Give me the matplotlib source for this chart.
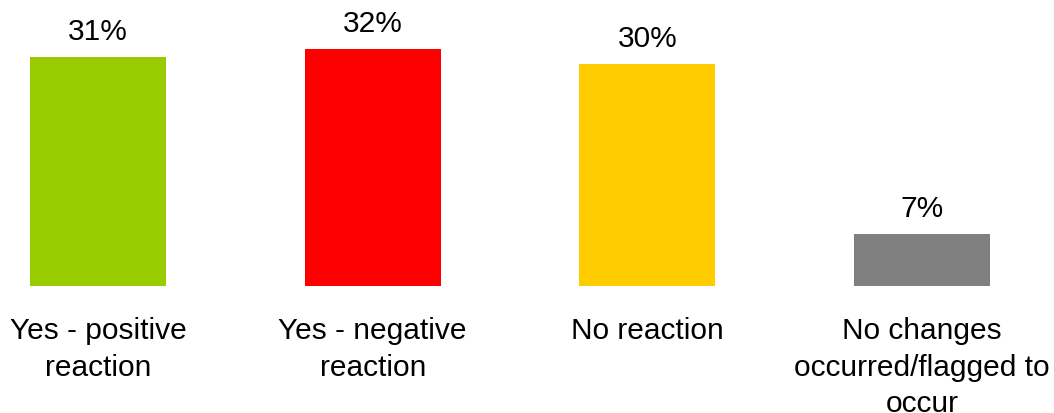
import matplotlib
matplotlib.use('Agg')
import matplotlib.pyplot as plt

categories = ['Yes - positive\nreaction', 'Yes - negative\nreaction', 'No reaction',
              'No changes\noccurred/flagged to\noccur']
values = [31, 32, 30, 7]
colors = ['#99CC00', '#FF0000', '#FFCC00', '#808080']

plt.rcParams['font.family'] = ['Liberation Sans', 'DejaVu Sans']

fig = plt.figure(figsize=(10.54, 4.14), dpi=100)
ax = fig.add_axes([0, 127 / 414, 1, 287 / 414])

x = list(range(len(values)))
bars = ax.bar(x, values, width=0.495, color=colors, linewidth=0)

# percent labels above bars
for b, v in zip(bars, values):
    ax.annotate(f'{v}%', (b.get_x() + b.get_width() / 2, b.get_height()),
                xytext=(0, 13), textcoords='offset points',
                ha='center', va='baseline', fontsize=21.5, color='black')

ax.set_xlim(-0.3568, 3.480)
ax.set_ylim(0, 38.8)
ax.set_xticks(x)
ax.set_xticklabels(categories, fontsize=21.5)
ax.tick_params(axis='x', length=0, pad=21.5)
for lbl in ax.get_xticklabels():
    lbl.set_linespacing(1.4)
ax.set_yticks([])
for s in ax.spines.values():
    s.set_visible(False)

fig.savefig('out.png', dpi=100)
